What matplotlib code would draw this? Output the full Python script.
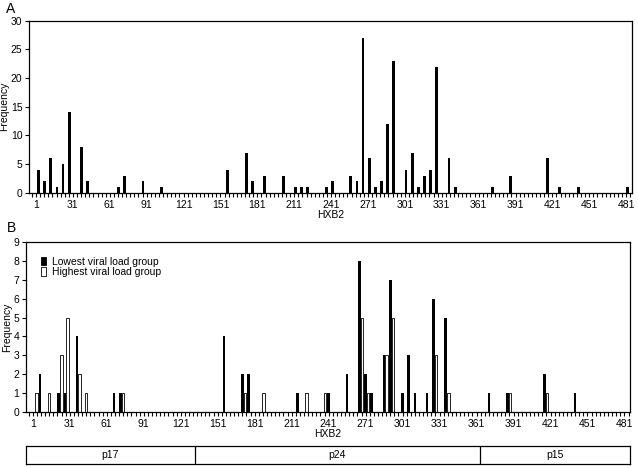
import numpy as np
import matplotlib
matplotlib.use("Agg")
import matplotlib.pyplot as plt
from matplotlib.patches import Patch

plt.rcParams['font.family'] = ['Liberation Sans', 'DejaVu Sans']

# Panel A: all positions
pos_a = [3, 8, 13, 18, 23, 28, 38, 43, 68, 73, 88, 103, 157, 172, 177, 187, 202,
         212, 217, 222, 237, 242, 257, 262, 267, 272, 277, 282, 287, 292, 302,
         307, 312, 317, 322, 327, 337, 342, 372, 387, 417, 427, 442, 482]
freq_a = [4, 2, 6, 1, 5, 14, 8, 2, 1, 3, 2, 1, 4, 7, 2, 3, 3,
          1, 1, 1, 1, 2, 3, 2, 27, 6, 1, 2, 12, 23, 4,
          7, 1, 3, 4, 22, 6, 1, 1, 3, 6, 1, 1, 1]

# Panel B: lowest viral load group (black)
pos_low = [8, 23, 28, 38, 68, 73, 157, 172, 177, 217, 242, 257, 267, 272, 277,
           287, 292, 302, 307, 312, 322, 327, 337, 372, 387, 417, 442]
freq_low = [2, 1, 1, 4, 1, 1, 4, 2, 2, 1, 1, 2, 8, 2, 1,
            3, 7, 1, 3, 1, 1, 6, 5, 1, 1, 2, 1]
# Panel B: highest viral load group (white)
pos_high = [3, 13, 23, 28, 38, 43, 73, 172, 187, 222, 237, 267, 272, 287, 292,
            327, 337, 387, 417]
freq_high = [1, 1, 3, 5, 2, 1, 1, 1, 1, 1, 1, 5, 1, 3, 5,
             3, 1, 1, 1]

xticks = list(range(1, 482, 30))
regions = ['p17', 'p24', 'p15']
region_bounds = [-4.5, 132.5, 363.5, 485.5]

XMIN, XMAX = -4.5, 485.5
FS = 7.5

fig = plt.figure(figsize=(6.38, 4.68), dpi=100)
axA = fig.add_axes([0.0459, 0.5882, 0.9442, 0.3675])
axB = fig.add_axes([0.0408, 0.1190, 0.9467, 0.3645])
axC = fig.add_axes([0.0408, 0.0079, 0.9467, 0.0397])

minor = np.arange(1 - 10 / 3 * 1, XMAX, 10 / 3)

def style(ax, ymax, ystep):
    ax.set_xlim(XMIN, XMAX)
    ax.set_ylim(0, ymax)
    ax.set_yticks(np.arange(0, ymax + 0.01, ystep))
    ax.set_xticks(xticks)
    ax.set_xticks(minor, minor=True)
    ax.tick_params(axis='both', which='major', direction='out', length=3,
                   width=0.8, labelsize=FS, pad=2)
    ax.tick_params(axis='x', which='minor', direction='out', length=3, width=0.8)
    for s in ax.spines.values():
        s.set_linewidth(0.9)
    ax.set_ylabel('Frequency', fontsize=FS, labelpad=1)
    ax.set_xlabel('HXB2', fontsize=FS, labelpad=0)

axA.bar(pos_a, freq_a, width=2.2, color='black', linewidth=0)
style(axA, 30, 5)

w = 2.1
axB.bar(np.array(pos_low) - w / 2, freq_low, width=w, color='black', linewidth=0)
axB.bar(np.array(pos_high) + w / 2, freq_high, width=w, facecolor='white',
        edgecolor='black', linewidth=0.6)
style(axB, 9, 1)
handles = [Patch(facecolor='black', edgecolor='black', linewidth=0.6),
           Patch(facecolor='white', edgecolor='black', linewidth=0.6)]
axB.legend(handles, ['Lowest viral load group', 'Highest viral load group'],
           loc='upper left', bbox_to_anchor=(0.012, 0.955), frameon=False,
           fontsize=FS, handlelength=0.55, handleheight=0.9, handletextpad=0.5,
           labelspacing=0.05, borderpad=0.2)

fig.text(0.010, 0.981, 'A', fontsize=10, va='center', ha='left')
fig.text(0.010, 0.512, 'B', fontsize=10, va='center', ha='left')

axC.set_xlim(XMIN, XMAX)
axC.set_ylim(0, 1)
axC.set_xticks([])
axC.set_yticks([])
for s in axC.spines.values():
    s.set_linewidth(0.9)
for b in region_bounds[1:-1]:
    axC.axvline(b, color='black', linewidth=0.9)
for i, name in enumerate(regions):
    cx = (region_bounds[i] + region_bounds[i + 1]) / 2
    axC.text(cx, 0.5, name, ha='center', va='center', fontsize=FS)

fig.savefig('out.png', dpi=100)
